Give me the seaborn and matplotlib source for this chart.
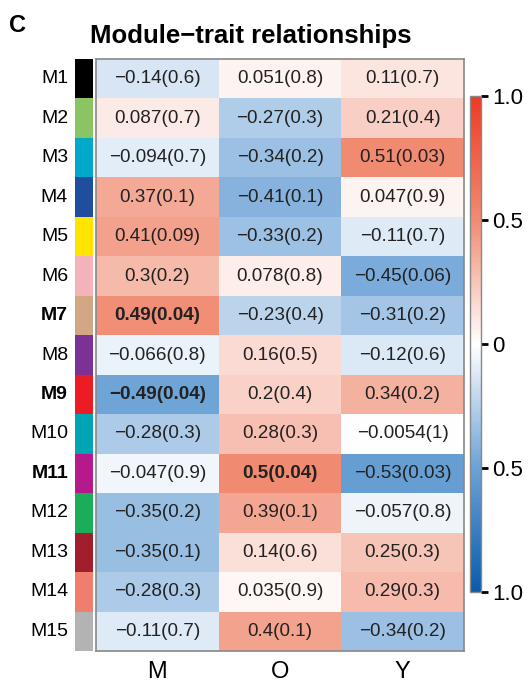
import matplotlib
matplotlib.use("Agg")
import matplotlib.pyplot as plt
from matplotlib.colors import LinearSegmentedColormap, ListedColormap
import seaborn as sns
import numpy as np
import pandas as pd

modules = ["M1", "M2", "M3", "M4", "M5", "M6", "M7", "M8", "M9", "M10",
           "M11", "M12", "M13", "M14", "M15"]
traits = ["M", "O", "Y"]
module_colors = ["#000000", "#8BC563", "#00A9C9", "#1F4E9F", "#FFE400",
                 "#F4B3B9", "#D2A884", "#7B3294", "#ED1C24", "#00A5B5",
                 "#B5198C", "#1BAE5A", "#A21E2D", "#F07E6E", "#B3B3B3"]
bold_modules = ["M7", "M9", "M11"]

r_M = [-0.14, 0.087, -0.094, 0.37, 0.41, 0.3, 0.49, -0.066, -0.49, -0.28,
       -0.047, -0.35, -0.35, -0.28, -0.11]
p_M = [0.6, 0.7, 0.7, 0.1, 0.09, 0.2, 0.04, 0.8, 0.04, 0.3, 0.9, 0.2, 0.1, 0.3, 0.7]
r_O = [0.051, -0.27, -0.34, -0.41, -0.33, 0.078, -0.23, 0.16, 0.2, 0.28,
       0.5, 0.39, 0.14, 0.035, 0.4]
p_O = [0.8, 0.3, 0.2, 0.1, 0.2, 0.8, 0.4, 0.5, 0.4, 0.3, 0.04, 0.1, 0.6, 0.9, 0.1]
r_Y = [0.11, 0.21, 0.51, 0.047, -0.11, -0.45, -0.31, -0.12, 0.34, -0.0054,
       -0.53, -0.057, 0.25, 0.29, -0.34]
p_Y = [0.7, 0.4, 0.03, 0.9, 0.7, 0.06, 0.2, 0.6, 0.2, 1, 0.03, 0.8, 0.3, 0.3, 0.2]
# cells drawn in bold (module, trait)
bold_cells = [("M7", "M"), ("M9", "M"), ("M11", "O")]

cbar_ticks = [-1, -0.5, 0, 0.5, 1]
cbar_labels = ["1.0", "0.5", "0", "0.5", "1.0"]

plt.rcParams["font.family"] = ["Liberation Sans", "DejaVu Sans"]

corr = pd.DataFrame({"M": r_M, "O": r_O, "Y": r_Y}, index=modules)
pval = pd.DataFrame({"M": p_M, "O": p_O, "Y": p_Y}, index=modules)

def fmt(r, p):
    return f"{r:g}({p:g})".replace("-", "\u2212")

annot = np.array([[fmt(corr.loc[m, t], pval.loc[m, t]) for t in traits] for m in modules])

cmap = LinearSegmentedColormap.from_list(
    "bwr_wgcna",
    [(0.0, "#0B5BAA"), (0.25, "#6CA2D6"), (0.5, "#FFFFFF"),
     (0.75, "#F08C73"), (1.0, "#EE3B24")])

W, H = 528, 687
fig = plt.figure(figsize=(W / 100, H / 100), dpi=100)
ax = fig.add_axes([96 / W, 1 - 651 / H, 368 / W, 592 / H])
sax = fig.add_axes([75 / W, 1 - 651 / H, 18 / W, 592 / H])
cax = fig.add_axes([470 / W, 1 - 592 / H, 11 / W, 496 / H])

sns.heatmap(corr, ax=ax, cmap=cmap, vmin=-1, vmax=1, annot=annot, fmt="",
            annot_kws={"fontsize": 13.6, "color": "#222222"}, cbar_ax=cax,
            yticklabels=False)

# bold significant cells
for txt in ax.texts:
    x, y = txt.get_position()
    cell = (modules[int(y)], traits[int(x)])
    if cell in bold_cells:
        txt.set_fontweight("bold")

ax.tick_params(axis="x", length=0, labelsize=17, pad=7)
ax.set_xlabel("")
ax.set_ylabel("")
for s in ax.spines.values():
    s.set_visible(True)
    s.set_color("#888888")
    s.set_linewidth(1.2)

# module colour strip
strip = pd.DataFrame({"c": np.arange(len(modules))}, index=modules)
sns.heatmap(strip, ax=sax, cmap=ListedColormap(module_colors), cbar=False,
            xticklabels=False, yticklabels=modules)
sax.tick_params(axis="y", length=0, labelsize=14, pad=5, rotation=0)
for lab in sax.get_yticklabels():
    if lab.get_text() in bold_modules:
        lab.set_fontweight("bold")
sax.set_ylabel("")

# colorbar
cb = ax.collections[0].colorbar
cb.set_ticks(cbar_ticks)
cb.set_ticklabels(cbar_labels)
cax.tick_params(length=5, width=2, color="black", labelsize=16, pad=3)
cb.outline.set_edgecolor("#888888")
cb.outline.set_linewidth(1.0)

fig.text(0.475, 0.948, "Module\u2212trait relationships", ha="center", va="center",
         fontsize=18.5, fontweight="bold")
fig.text(0.017, 0.963, "C", ha="left", va="center", fontsize=17, fontweight="bold")

fig.savefig("out.png", dpi=100)
